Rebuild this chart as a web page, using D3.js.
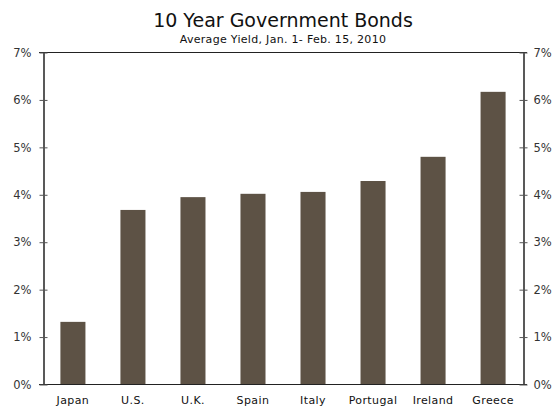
<!DOCTYPE html>
<html>
<head>
<meta charset="utf-8">
<script src="https://cdn.jsdelivr.net/npm/d3@7"></script>
<style>
  html, body { margin: 0; padding: 0; background: #fff; }
  svg { display: block; font-family: "DejaVu Sans", Verdana, sans-serif; }
</style>
</head>
<body>
<svg id="chart" width="553" height="408"></svg>
<script>
// Average 10-year government bond yields, Jan. 1 - Feb. 15, 2010 (percent)
const countries = ["Japan", "U.S.", "U.K.", "Spain", "Italy", "Portugal", "Ireland", "Greece"];
const yields = [1.31, 3.67, 3.94, 4.01, 4.05, 4.28, 4.79, 6.16];
const tickValues = [0, 1, 2, 3, 4, 5, 6, 7];

const titleText = "10 Year Government Bonds";
const subtitleText = "Average Yield, Jan. 1- Feb. 15, 2010";

const svg = d3.select("#chart");
const margin = { top: 52, right: 30, bottom: 24, left: 43 };
const width = 553, height = 408;
const x0 = margin.left, x1 = width - margin.right;
const y0 = height - margin.bottom, y1 = margin.top;

const x = d3.scaleBand().domain(countries).range([x0, x1]).paddingInner(0.583).paddingOuter(0.29);
const y = d3.scaleLinear().domain([0, 7]).range([y0, y1]);

const barColor = "#5d5245";
const axisColor = "#222";

// Titles
svg.append("text")
  .attr("x", (x0 + x1) / 2).attr("y", 27)
  .attr("text-anchor", "middle")
  .attr("font-size", 19).attr("fill", "#111")
  .text(titleText);
svg.append("text")
  .attr("x", (x0 + x1) / 2).attr("y", 43)
  .attr("text-anchor", "middle")
  .attr("font-size", 11).attr("letter-spacing", 0.3).attr("fill", "#111")
  .text(subtitleText);

// Bars
svg.append("g").selectAll("rect")
  .data(countries)
  .join("rect")
  .attr("x", d => x(d))
  .attr("width", x.bandwidth())
  .attr("y", (d, i) => y(yields[i]))
  .attr("height", (d, i) => y(0) - y(yields[i]))
  .attr("fill", barColor);

// Frame: top and bottom lines
svg.append("line").attr("x1", x0 - 4).attr("x2", x1 + 4).attr("y1", y(7) + 0.5).attr("y2", y(7) + 0.5)
  .attr("stroke", axisColor);
svg.append("line").attr("x1", x0 - 4).attr("x2", x1 + 4).attr("y1", y(0) + 0.5).attr("y2", y(0) + 0.5)
  .attr("stroke", axisColor);

const fmt = d => d + "%";

// Left axis
const leftAxis = svg.append("g")
  .attr("transform", `translate(${x0 + 0.5},0.5)`)
  .call(d3.axisLeft(y).tickValues(tickValues).tickFormat(fmt).tickSize(4).tickSizeOuter(0).tickPadding(8));

// Right axis
const rightAxis = svg.append("g")
  .attr("transform", `translate(${x1 + 0.5},0.5)`)
  .call(d3.axisRight(y).tickValues(tickValues).tickFormat(fmt).tickSize(4).tickSizeOuter(0).tickPadding(6));

[leftAxis, rightAxis].forEach(g => {
  g.select(".domain").attr("stroke", axisColor).attr("stroke-width", 1.5);
  g.selectAll(".tick line").attr("stroke", "#555");
  g.selectAll(".tick text").attr("font-size", 11.5).attr("fill", "#333")
    .attr("font-family", "DejaVu Sans, Verdana, sans-serif");
});
// Ticks cross the axis line on both sides
leftAxis.selectAll(".tick line").attr("x1", 4);
rightAxis.selectAll(".tick line").attr("x1", -4);

// Category labels
svg.append("g").selectAll("text")
  .data(countries)
  .join("text")
  .attr("x", d => x(d) + x.bandwidth() / 2)
  .attr("y", 404)
  .attr("text-anchor", "middle")
  .attr("font-size", 11)
  .attr("letter-spacing", 0.4)
  .attr("fill", "#111")
  .text(d => d);
</script>
</body>
</html>
